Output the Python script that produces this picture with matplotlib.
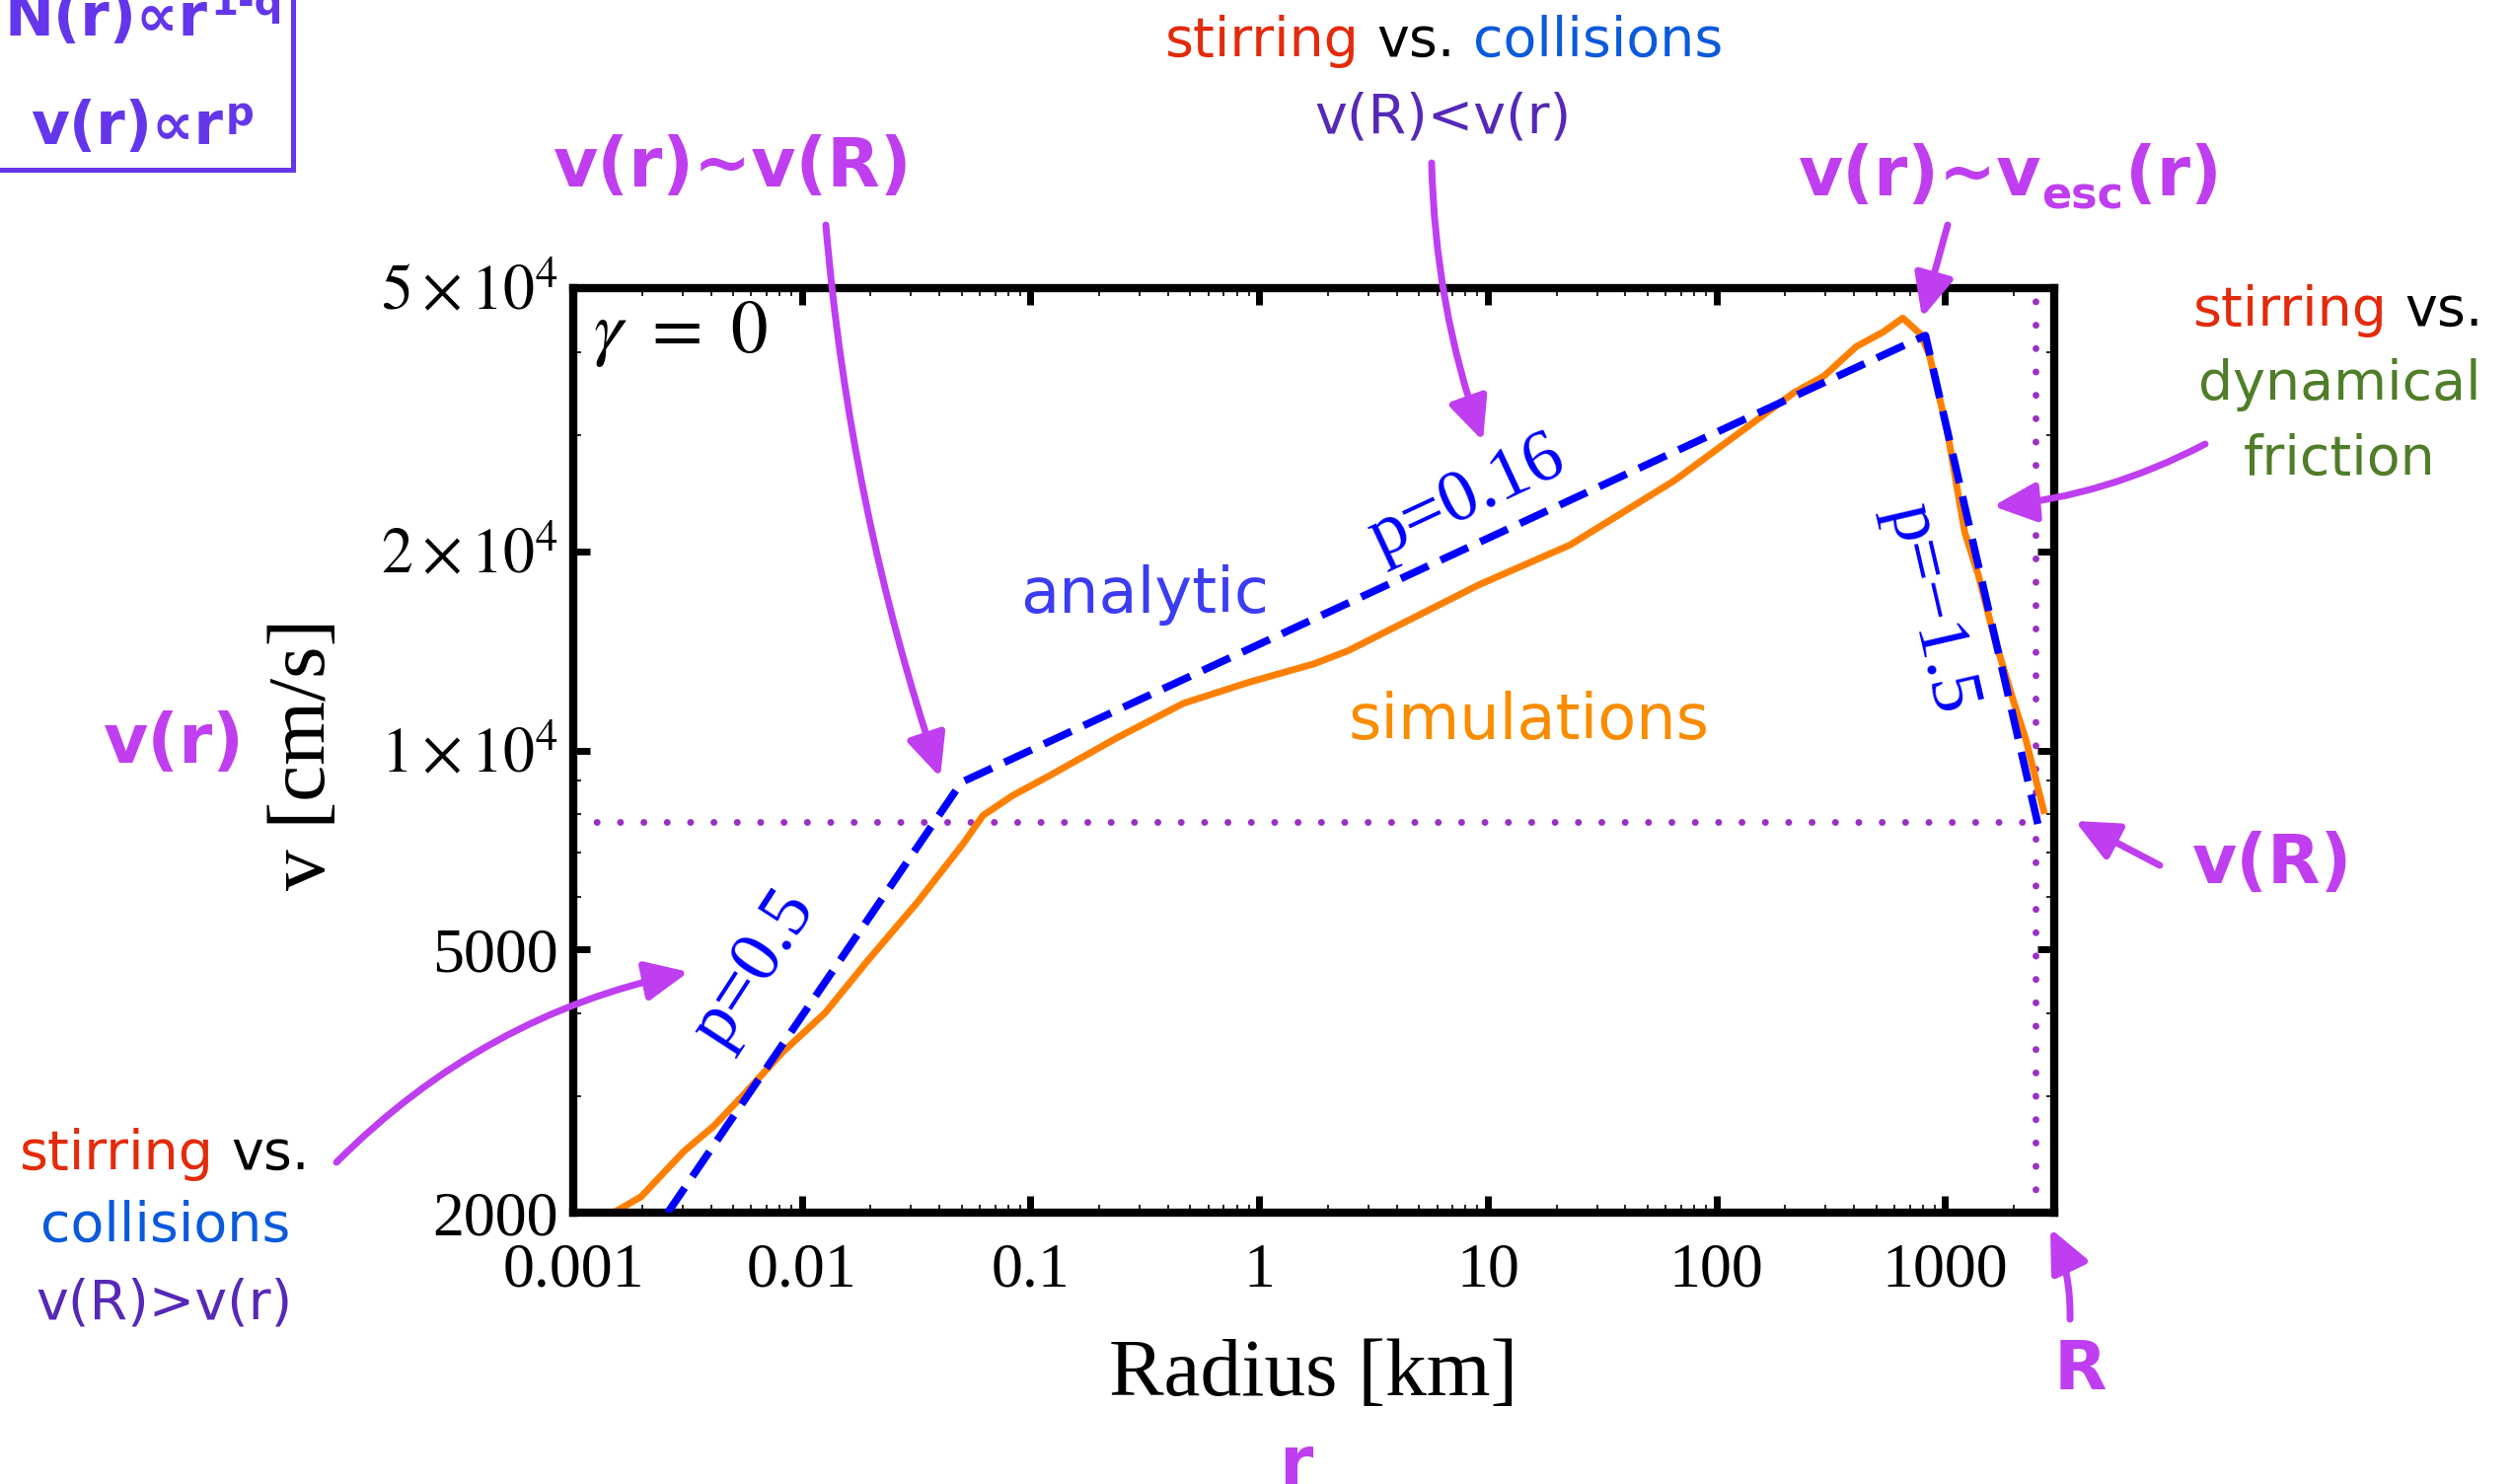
import numpy as np
import matplotlib
matplotlib.use('Agg')
import matplotlib.pyplot as plt
from matplotlib.ticker import FixedLocator, FixedFormatter, LogLocator, NullFormatter
from matplotlib.patches import Rectangle

# ---------------- data ----------------
radius_sim = [0.00150, 0.00198, 0.00305, 0.0041, 0.00553, 0.00822, 0.01264, 0.01945,
              0.0319, 0.0508, 0.0619, 0.0833, 0.124, 0.239, 0.466, 0.904, 1.74, 2.44,
              4.70, 9.15, 22.9, 65.3, 219, 295, 409, 535, 653, 780, 853, 1021, 1219,
              1397, 1643, 2004, 2256, 2697]
v_sim = [2000, 2114, 2477, 2700, 3010, 3495, 4010, 4815, 5885, 7230, 7970, 8540, 9200,
         10450, 11780, 12680, 13520, 14140, 15850, 17800, 20450, 25570, 34780, 36800,
         40800, 42900, 45050, 42600, 39650, 30450, 21350, 18420, 14790, 11780, 10380, 8110]

radius_analytic = [0.00259, 0.0499, 820, 2560]
v_analytic = [2000, 8950, 42400, 7670]

R_surface = 2490.0
v_R = 7790.0

x_ticks = [0.001, 0.01, 0.1, 1, 10, 100, 1000]
x_tick_labels = ['0.001', '0.01', '0.1', '1', '10', '100', '1000']
y_ticks = [2000, 5000, 1e4, 2e4, 5e4]
y_tick_labels = ['2000', '5000', r'$1\times10^{4}$', r'$2\times10^{4}$', r'$5\times10^{4}$']
x_limits = (1e-3, 3000)
y_limits = (2000, 5e4)

# ---------------- style ----------------
W, H = 2548, 1504
SERIF = ['Liberation Serif', 'DejaVu Serif']
SANS = ['DejaVu Sans']
plt.rcParams['font.family'] = SERIF
plt.rcParams['mathtext.fontset'] = 'stix'

PURPLE = '#BF3EF0'
DOT = '#9B30C4'
BOXC = '#6436EB'
RED = '#E32A0A'
CBLUE = '#0A5ADC'
DKPURPLE = '#5528B8'
GREEN = '#4F7D28'
ORANGE = '#FF8000'

fig = plt.figure(figsize=(W / 100, H / 100), dpi=100)
fig.patch.set_facecolor('white')
ax = fig.add_axes([581 / W, 1 - 1229 / H, (2082 - 581) / W, (1229 - 292) / H])
ax.set_xscale('log')
ax.set_yscale('log')
ax.set_xlim(*x_limits)
ax.set_ylim(*y_limits)

dotted = (0, (0.01, 3.4))
ax.plot([x_limits[0], R_surface], [v_R, v_R], color=DOT, lw=5, linestyle=dotted,
        dash_capstyle='round', zorder=1)
ax.axvline(R_surface, color=DOT, lw=5, linestyle=dotted, dash_capstyle='round', zorder=1)

ax.plot(radius_sim, v_sim, color=ORANGE, lw=5, zorder=2)
ax.plot(radius_analytic, v_analytic, color='#0000FF', lw=5.5, linestyle=(0, (4.0, 1.8)),
        zorder=3)

for s in ax.spines.values():
    s.set_linewidth(6)

ax.xaxis.set_major_locator(FixedLocator(x_ticks))
ax.xaxis.set_major_formatter(FixedFormatter(x_tick_labels))
ax.xaxis.set_minor_locator(LogLocator(base=10, subs=np.arange(2, 10), numticks=50))
ax.xaxis.set_minor_formatter(NullFormatter())
ax.yaxis.set_major_locator(FixedLocator(y_ticks))
ax.yaxis.set_major_formatter(FixedFormatter(y_tick_labels))
ax.yaxis.set_minor_locator(LogLocator(base=10, subs=np.arange(1, 10), numticks=50))
ax.yaxis.set_minor_formatter(NullFormatter())

ax.tick_params(which='major', direction='in', length=12, width=5, top=True, right=True,
               labelsize=46)
ax.tick_params(which='minor', direction='in', length=6, width=1.2, top=True, right=True)
ax.tick_params(axis='x', which='major', pad=22)
ax.tick_params(axis='y', which='major', pad=11)

ax.set_xlabel('Radius [km]', fontsize=60)
ax.xaxis.label.set_va('center')
ax.xaxis.set_label_coords(0.5, (1229 - 1394) / 937)
ax.set_ylabel('v [cm/s]', fontsize=60)
ax.yaxis.label.set_va('center')
ax.yaxis.set_label_coords((309 - 581) / 1501, (1229 - 764) / 937)


def fp(x, y):
    return (x, H - y)


def label(s, x, y, size, color, weight='normal', ha='center', va='center', family=SANS,
          rotation=0):
    return ax.annotate(s, xy=fp(x, y), xycoords='figure pixels', ha=ha, va=va,
                       fontsize=size, color=color, fontweight=weight, family=family,
                       rotation=rotation, rotation_mode='anchor' if rotation else 'default')


def chain(pieces, x, y, size, weight='normal'):
    first = ax.annotate(pieces[0][0], xy=fp(x, y), xycoords='figure pixels', ha='left',
                        va='baseline', fontsize=size, color=pieces[0][1],
                        fontweight=weight, family=SANS)
    prev = first
    for s, c in pieces[1:]:
        prev = ax.annotate(s, xy=(1, 0), xycoords=prev, xytext=(0.32 * size, 0),
                           textcoords='offset points', ha='left', va='bottom',
                           fontsize=size, color=c, fontweight=weight, family=SANS)
    return first


def arrow(tail, tip, rad=0.0):
    ax.annotate('', xy=fp(*tip), xytext=fp(*tail), xycoords='figure pixels',
                textcoords='figure pixels',
                arrowprops=dict(arrowstyle='-|>,head_length=1.2,head_width=0.55',
                                color=PURPLE, lw=5, shrinkA=0, shrinkB=0,
                                mutation_scale=22,
                                connectionstyle=f'arc3,rad={rad}'))


# top-left box
fig.add_artist(Rectangle((-10 / W, 1 - 172 / H), (297 + 10) / W, (172 + 20) / H,
                         transform=fig.transFigure, fill=False, ec=BOXC, lw=3.6))
t_n = label('N(r)∝r', 5, 36, 43, BOXC, weight='bold', ha='left', va='baseline')
ax.annotate('1-q', xy=(1, 1), xycoords=t_n, xytext=(2, 4), textcoords='offset points',
            ha='left', va='top', fontsize=29, color=BOXC, fontweight='bold', family=SANS)
t_v = label('v(r)∝r', 31, 146, 43, BOXC, weight='bold', ha='left', va='baseline')
ax.annotate('p', xy=(1, 1), xycoords=t_v, xytext=(2, 3), textcoords='offset points',
            ha='left', va='top', fontsize=29, color=BOXC, fontweight='bold', family=SANS)

# gamma
label(r'$\gamma\ =\ 0$', 601, 357, 54, 'black', ha='left', va='baseline', family=SERIF)

# v(r)~v(R)
label('v(r)~v(R)', 743, 169, 50, PURPLE, weight='bold')
arrow((837, 228), (953, 788), rad=0.06)

# top center
chain([('stirring', RED), ('vs.', 'black'), ('collisions', CBLUE)], 1181, 57, 40)
label('v(R)<v(r)', 1462, 119, 40, DKPURPLE)
arrow((1451, 165), (1503, 447), rad=0.08)

# v(r)~v_esc(r)
t1 = label('v(r)~v', 1823, 198, 50, PURPLE, weight='bold', ha='left', va='baseline')
t2 = ax.annotate('esc', xy=(1, 0), xycoords=t1, xytext=(0, -6), textcoords='offset points',
                 ha='left', va='bottom', fontsize=32, color=PURPLE, fontweight='bold',
                 family=SANS)
ax.annotate('(r)', xy=(1, 0), xycoords=(t2, t1), xytext=(1, 0), textcoords='offset points',
            ha='left', va='bottom', fontsize=50, color=PURPLE, fontweight='bold', family=SANS)
arrow((1974, 228), (1948, 322), rad=0.0)

# right: stirring vs. dynamical friction
chain([('stirring', RED), ('vs.', 'black')], 2223, 330, 40)
label('dynamical', 2371, 390, 40, GREEN)
label('friction', 2371, 466, 40, GREEN)
arrow((2235, 450), (2020, 513), rad=-0.1)

# v(R) and R
label('v(R)', 2303, 875, 50, PURPLE, weight='bold')
arrow((2189, 877), (2103, 832), rad=0.0)
label('R', 2108, 1389, 50, PURPLE, weight='bold')
arrow((2098, 1337), (2078, 1245), rad=0.12)

# r and v(r)
label('r', 1313, 1452, 50, PURPLE, weight='bold', va='top')
label('v(r)', 176, 753, 50, PURPLE, weight='bold')

# left bottom
chain([('stirring', RED), ('vs.', 'black')], 20, 1185, 40)
label('collisions', 168, 1243, 40, CBLUE)
label('v(R)>v(r)', 166, 1321, 40, DKPURPLE)
arrow((341, 1178), (698, 985), rad=-0.15)

# curve labels
label('analytic', 1160, 603, 46, '#3C3CF5')
label('simulations', 1550, 731, 46, '#FA8C00')

label('p=0.5', 765, 982, 54, '#0000FF', family=SERIF, rotation=57)
label('p=0.16', 1487, 505, 54, '#0000FF', family=SERIF, rotation=25)
label('p=\u22121.5', 1956, 618, 54, '#0000FF', family=SERIF, rotation=-77)

fig.savefig('out.png', dpi=100, facecolor='white')
